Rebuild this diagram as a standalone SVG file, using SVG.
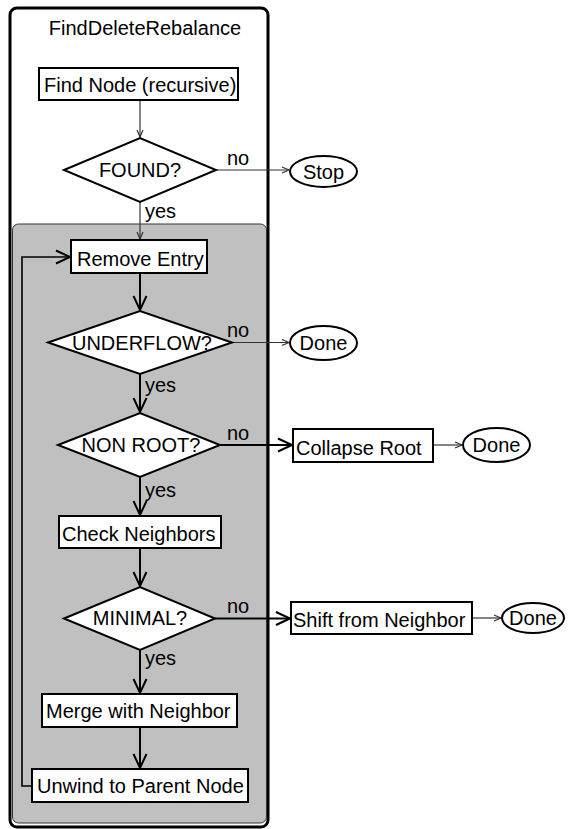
<svg xmlns="http://www.w3.org/2000/svg" width="568" height="829" viewBox="0 0 568 829">
<style>
text{font-family:"Liberation Sans",Arial,sans-serif;font-size:20px;fill:#000}
.box{fill:#fff;stroke:#000;stroke-width:2}
.thin{fill:none;stroke:#333;stroke-width:1.2}
.thick{fill:none;stroke:#000;stroke-width:2}
.mid{fill:none;stroke:#000;stroke-width:1.6}
.c{text-anchor:middle}
</style>
<defs>
<marker id="sa" markerUnits="userSpaceOnUse" markerWidth="12" markerHeight="10" refX="8" refY="4" orient="auto">
<path d="M1,1 L8,4 L1,7" fill="none" stroke="#333" stroke-width="1.2"/>
</marker>
<marker id="la" markerUnits="userSpaceOnUse" markerWidth="18" markerHeight="16" refX="15" refY="8" orient="auto">
<path d="M1,1.5 L15,8 L1,14.5" fill="none" stroke="#000" stroke-width="2"/>
</marker>
</defs>
<rect x="10" y="8" width="258" height="819" rx="7" fill="#fff" stroke="#000" stroke-width="3"/>
<rect x="12.5" y="224" width="254" height="599" rx="6" fill="#c0c0c0" stroke="#333" stroke-width="1"/>
<text class="c" x="145" y="35">FindDeleteRebalance</text>
<g id="connectors">
<line class="thin" x1="140" y1="100" x2="140" y2="137" marker-end="url(#sa)"/>
<line class="thin" x1="216" y1="170" x2="289" y2="170" marker-end="url(#sa)"/>
<line class="thin" x1="140" y1="202" x2="140" y2="239" marker-end="url(#sa)"/>
<line class="thick" x1="140" y1="273" x2="140" y2="310" marker-end="url(#la)"/>
<line class="thin" x1="232" y1="342.5" x2="289" y2="342.5" marker-end="url(#sa)"/>
<line class="thick" x1="140" y1="374" x2="140" y2="412" marker-end="url(#la)"/>
<line class="thick" x1="220" y1="445" x2="292" y2="445" marker-end="url(#la)"/>
<line class="thin" x1="433" y1="445" x2="462" y2="445" marker-end="url(#sa)"/>
<line class="thick" x1="140" y1="477" x2="140" y2="515" marker-end="url(#la)"/>
<line class="thick" x1="140" y1="548" x2="140" y2="586" marker-end="url(#la)"/>
<line class="thick" x1="215" y1="618.5" x2="290" y2="618.5" marker-end="url(#la)"/>
<line class="thin" x1="472" y1="618" x2="501" y2="618" marker-end="url(#sa)"/>
<line class="thick" x1="140" y1="650" x2="140" y2="693" marker-end="url(#la)"/>
<line class="thick" x1="140" y1="727" x2="140" y2="768" marker-end="url(#la)"/>
<polyline class="mid" points="32,786 22,786 22,257 70,257" marker-end="url(#la)"/>
<text x="227" y="165">no</text>
<text x="145" y="218">yes</text>
<text x="227" y="337">no</text>
<text x="145" y="392">yes</text>
<text x="227" y="440">no</text>
<text x="145" y="497">yes</text>
<text x="227" y="613">no</text>
<text x="145" y="665">yes</text>
</g>
<g id="find"><rect class="box" x="39" y="68" width="199" height="32"/><text x="44" y="92">Find Node (recursive)</text></g>
<g id="found"><polygon class="box" points="64,170 140,138 216,170 140,202"/><text class="c" x="140" y="177">FOUND?</text></g>
<g id="stop"><ellipse class="box" cx="323.5" cy="171.5" rx="33.5" ry="15.5"/><text class="c" x="323.5" y="178.5">Stop</text></g>
<g id="remove"><rect class="box" x="71" y="240" width="136" height="33"/><text x="77" y="266">Remove Entry</text></g>
<g id="underflow"><polygon class="box" points="48,342.5 140,311 232,342.5 140,374"/><text class="c" x="142" y="350">UNDERFLOW?</text></g>
<g id="done1"><ellipse class="box" cx="323.5" cy="343" rx="33.5" ry="17"/><text class="c" x="323.5" y="350">Done</text></g>
<g id="nonroot"><polygon class="box" points="58,445 140,413 220,445 140,477"/><text class="c" x="141" y="452">NON ROOT?</text></g>
<g id="collapse"><rect class="box" x="293" y="429" width="140" height="33"/><text x="296" y="455">Collapse Root</text></g>
<g id="done2"><ellipse class="box" cx="496.5" cy="445" rx="33.5" ry="17"/><text class="c" x="496.5" y="452">Done</text></g>
<g id="check"><rect class="box" x="59" y="516" width="162" height="32"/><text x="62" y="541">Check Neighbors</text></g>
<g id="minimal"><polygon class="box" points="64,618.5 140,587 215,618.5 140,650"/><text class="c" x="140" y="625">MINIMAL?</text></g>
<g id="shift"><rect class="box" x="291" y="602" width="181" height="32"/><text x="293" y="627">Shift from Neighbor</text></g>
<g id="done3"><ellipse class="box" cx="533" cy="618" rx="31" ry="15"/><text class="c" x="533" y="625">Done</text></g>
<g id="merge"><rect class="box" x="42" y="694" width="195" height="33"/><text x="46" y="718">Merge with Neighbor</text></g>
<g id="unwind"><rect class="box" x="32" y="769" width="216" height="33"/><text x="37" y="793">Unwind to Parent Node</text></g>
</svg>
